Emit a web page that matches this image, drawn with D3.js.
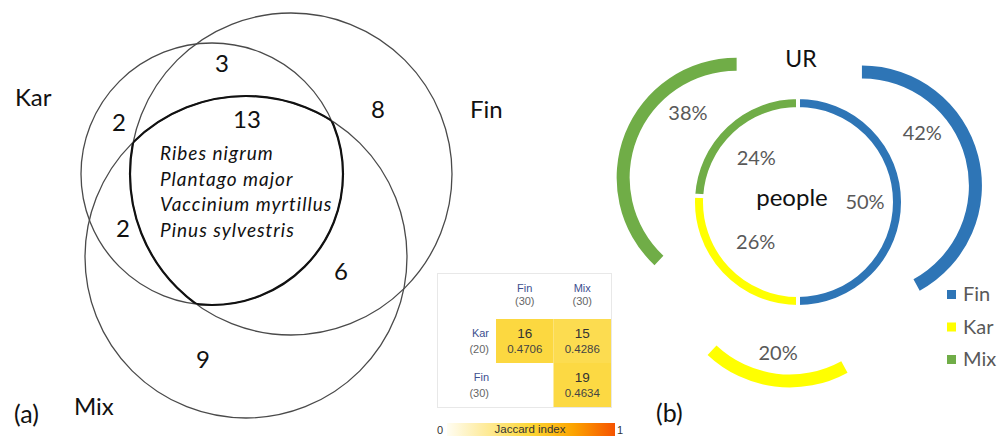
<!DOCTYPE html>
<html><head><meta charset="utf-8">
<script src="https://cdn.jsdelivr.net/npm/d3@7"></script>
<style>html,body{margin:0;padding:0;background:#fff;}svg{display:block;}</style>
</head><body>
<script>
// ---------- DATA ----------
const vennSets = ["Kar", "Fin", "Mix"];
const vennRegions = ["Kar", "Kar∩Fin", "Kar∩Fin∩Mix", "Fin", "Kar∩Mix", "Fin∩Mix", "Mix"];
const vennCounts = [2, 3, 13, 8, 2, 6, 9];
const sharedSpecies = ["Ribes nigrum", "Plantago major", "Vaccinium myrtillus", "Pinus sylvestris"];

const jacRows = ["Kar", "Fin"];
const jacRowSizes = [20, 30];
const jacCols = ["Fin", "Mix"];
const jacColSizes = [30, 30];
const jacCounts = [[16, 15], [null, 19]];
const jacIndex = [[0.4706, 0.4286], [null, 0.4634]];

const donutCats = ["Fin", "Kar", "Mix"];
const peopleShare = [50, 26, 24];
const urShare = [42, 20, 38];
const donutColors = ["#2e75b6", "#ffff00", "#70ad47"];

// ---------- LAYOUT ----------
const W = 998, H = 436;
const svg = d3.select("body").append("svg").attr("width", W).attr("height", H);
const venFont = "Lato, 'Open Sans', sans-serif";
const tblFont = "'Liberation Sans', Arial, sans-serif";

// Venn geometry (pixels)
const circ = {
  Kar: {cx: 212, cy: 174, r: 131},
  Fin: {cx: 291, cy: 174, r: 161},
  Mix: {cx: 246, cy: 257, r: 161}
};
const setLabelPos = {Kar: [15, 106], Fin: [470, 118], Mix: [74, 415]};
const regionLabelPos = [[119, 131], [222, 72], [247, 128], [378, 118], [123, 237], [341, 280], [203, 368]];

const defs = svg.append("defs");
vennSets.forEach(s => {
  defs.append("clipPath").attr("id", "clip-" + s)
    .append("circle").attr("cx", circ[s].cx).attr("cy", circ[s].cy).attr("r", circ[s].r);
});

const venn = svg.append("g");
venn.selectAll("circle.set").data(vennSets).join("circle")
  .attr("class", "set")
  .attr("cx", s => circ[s].cx).attr("cy", s => circ[s].cy).attr("r", s => circ[s].r)
  .attr("fill", "none").attr("stroke", "#4a4a4a").attr("stroke-width", 1.3);

// bold outline of triple intersection
vennSets.forEach(s => {
  const others = vennSets.filter(o => o !== s);
  venn.append("g").attr("clip-path", `url(#clip-${others[0]})`)
    .append("g").attr("clip-path", `url(#clip-${others[1]})`)
    .append("circle").attr("cx", circ[s].cx).attr("cy", circ[s].cy).attr("r", circ[s].r)
    .attr("fill", "none").attr("stroke", "#111").attr("stroke-width", 2.2);
});

venn.selectAll("text.setlab").data(vennSets).join("text")
  .attr("class", "setlab")
  .attr("x", s => setLabelPos[s][0]).attr("y", s => setLabelPos[s][1])
  .attr("font-family", venFont).attr("font-size", 24).attr("fill", "#111")
  .text(s => s);

venn.selectAll("text.cnt").data(vennCounts).join("text")
  .attr("class", "cnt")
  .attr("x", (d, i) => regionLabelPos[i][0]).attr("y", (d, i) => regionLabelPos[i][1])
  .attr("text-anchor", "middle")
  .attr("font-family", venFont).attr("font-size", 24).attr("fill", "#111")
  .text(d => d);

venn.selectAll("text.sp").data(sharedSpecies).join("text")
  .attr("class", "sp")
  .attr("x", 160).attr("y", (d, i) => 160 + i * 25.7)
  .attr("font-family", venFont).attr("font-style", "italic").attr("font-size", 19)
  .attr("letter-spacing", 1).attr("fill", "#111")
  .text(d => d);

svg.append("text").attr("x", 14).attr("y", 423)
  .attr("font-family", venFont).attr("font-size", 25).attr("fill", "#111").text("(a)");

// ---------- Jaccard table ----------
const tbl = svg.append("g");
tbl.append("rect").attr("x", 437.5).attr("y", 273.5).attr("width", 174).attr("height", 134)
  .attr("fill", "#fff").attr("stroke", "#e8e8e8");

const colX = d3.scaleBand().domain(jacCols).range([496, 611]);
const rowY = d3.scaleBand().domain(jacRows).range([319, 407]);
const jColor = d3.scaleLinear().domain([0, 0.5, 0.75, 1])
  .range(["#fffdf2", "#fcd635", "#fca400", "#f65300"]);

const cells = [];
jacRows.forEach((r, i) => jacCols.forEach((c, j) => {
  if (jacCounts[i][j] !== null) cells.push({r, c, n: jacCounts[i][j], v: jacIndex[i][j]});
}));
const cg = tbl.selectAll("g.cell").data(cells).join("g").attr("class", "cell");
cg.append("rect")
  .attr("x", d => colX(d.c)).attr("y", d => rowY(d.r))
  .attr("width", colX.bandwidth()).attr("height", rowY.bandwidth())
  .attr("fill", d => jColor(d.v));
cg.append("text")
  .attr("x", d => colX(d.c) + colX.bandwidth() / 2).attr("y", d => rowY(d.r) + 19)
  .attr("text-anchor", "middle").attr("font-family", tblFont).attr("font-size", 13.5).attr("fill", "#333")
  .text(d => d.n);
cg.append("text")
  .attr("x", d => colX(d.c) + colX.bandwidth() / 2).attr("y", d => rowY(d.r) + 34)
  .attr("text-anchor", "middle").attr("font-family", tblFont).attr("font-size", 11.5).attr("fill", "#444")
  .text(d => d.v.toFixed(4));

tbl.selectAll("text.ch").data(jacCols).join("text").attr("class", "ch")
  .attr("x", c => colX(c) + colX.bandwidth() / 2).attr("y", 292)
  .attr("text-anchor", "middle").attr("font-family", tblFont).attr("font-size", 11).attr("fill", "#3d4f8f")
  .text(c => c);
tbl.selectAll("text.cs").data(jacColSizes).join("text").attr("class", "cs")
  .attr("x", (d, j) => colX(jacCols[j]) + colX.bandwidth() / 2).attr("y", 305)
  .attr("text-anchor", "middle").attr("font-family", tblFont).attr("font-size", 11).attr("fill", "#666")
  .text(d => `(${d})`);
tbl.selectAll("text.rh").data(jacRows).join("text").attr("class", "rh")
  .attr("x", 489).attr("y", r => rowY(r) + 18)
  .attr("text-anchor", "end").attr("font-family", tblFont).attr("font-size", 11).attr("fill", "#3d4f8f")
  .text(r => r);
tbl.selectAll("text.rs").data(jacRowSizes).join("text").attr("class", "rs")
  .attr("x", 489).attr("y", (d, i) => rowY(jacRows[i]) + 34)
  .attr("text-anchor", "end").attr("font-family", tblFont).attr("font-size", 11).attr("fill", "#666")
  .text(d => `(${d})`);

// color bar
const grad = defs.append("linearGradient").attr("id", "jgrad");
d3.range(0, 1.0001, 0.05).forEach(t => {
  grad.append("stop").attr("offset", t).attr("stop-color", jColor(t));
});
tbl.append("rect").attr("x", 447).attr("y", 423).attr("width", 168).attr("height", 14).attr("fill", "url(#jgrad)");
tbl.append("text").attr("x", 440).attr("y", 434).attr("text-anchor", "middle")
  .attr("font-family", tblFont).attr("font-size", 11).attr("fill", "#333").text("0");
tbl.append("text").attr("x", 620).attr("y", 434).attr("text-anchor", "middle")
  .attr("font-family", tblFont).attr("font-size", 11).attr("fill", "#333").text("1");
tbl.append("text").attr("x", 530).attr("y", 433).attr("text-anchor", "middle")
  .attr("font-family", tblFont).attr("font-size", 11.5).attr("fill", "#333").text("Jaccard index");

// ---------- Doughnut ----------
const dc = {x: 798, y: 202};
const pie = d3.pie().sort(null).startAngle(0).endAngle(2 * Math.PI);
const innerArc = d3.arc().innerRadius(93).outerRadius(105);
const outerArc = d3.arc().innerRadius(107).outerRadius(120);
const explode = 66;
const innerLabR = [67, 58, 61];
const outerLabAngle = [-26.6, 0.6, 31.4]; // degrees relative to slice mid-angle
const outerLabR = [80, 86, 81];

const dg = svg.append("g").attr("transform", `translate(${dc.x},${dc.y})`);
const pPeople = pie(peopleShare);
const pUR = pie(urShare);

dg.selectAll("path.inner").data(pPeople).join("path").attr("class", "inner")
  .attr("d", innerArc).attr("fill", (d, i) => donutColors[i])
  .attr("stroke", "#fff").attr("stroke-width", 4);

const mid = d => (d.startAngle + d.endAngle) / 2;
const off = d => [Math.sin(mid(d)) * explode, -Math.cos(mid(d)) * explode];

dg.selectAll("path.outer").data(pUR).join("path").attr("class", "outer")
  .attr("transform", d => `translate(${off(d)[0]},${off(d)[1]})`)
  .attr("d", outerArc).attr("fill", (d, i) => donutColors[i]);

const lblStyle = sel => sel.attr("text-anchor", "middle").attr("dy", "0.35em")
  .attr("font-family", venFont).attr("font-size", 20).attr("fill", "#595959");

dg.selectAll("text.il").data(pPeople).join("text").attr("class", "il")
  .attr("x", (d, i) => Math.sin(mid(d)) * innerLabR[i])
  .attr("y", (d, i) => -Math.cos(mid(d)) * innerLabR[i])
  .call(lblStyle).text(d => d.data + "%");

dg.selectAll("text.ol").data(pUR).join("text").attr("class", "ol")
  .attr("x", (d, i) => off(d)[0] + Math.sin(mid(d) + outerLabAngle[i] * Math.PI / 180) * outerLabR[i])
  .attr("y", (d, i) => off(d)[1] - Math.cos(mid(d) + outerLabAngle[i] * Math.PI / 180) * outerLabR[i])
  .call(lblStyle).text(d => d.data + "%");

svg.append("text").attr("x", 801).attr("y", 67).attr("text-anchor", "middle")
  .attr("font-family", venFont).attr("font-size", 23).attr("fill", "#111").text("UR");
svg.append("text").attr("x", 792).attr("y", 206).attr("text-anchor", "middle")
  .attr("font-family", venFont).attr("font-size", 24).attr("fill", "#111").text("people");

// legend
const lg = svg.append("g");
lg.selectAll("rect").data(donutCats).join("rect")
  .attr("x", 947).attr("y", (d, i) => 290 + i * 32.5).attr("width", 9).attr("height", 9)
  .attr("fill", (d, i) => donutColors[i]);
lg.selectAll("text").data(donutCats).join("text")
  .attr("x", 963).attr("y", (d, i) => 301 + i * 32.5)
  .attr("font-family", venFont).attr("font-size", 20).attr("fill", "#595959")
  .text(d => d);

svg.append("text").attr("x", 656).attr("y", 422)
  .attr("font-family", venFont).attr("font-size", 25).attr("fill", "#111").text("(b)");
</script>
</body></html>
